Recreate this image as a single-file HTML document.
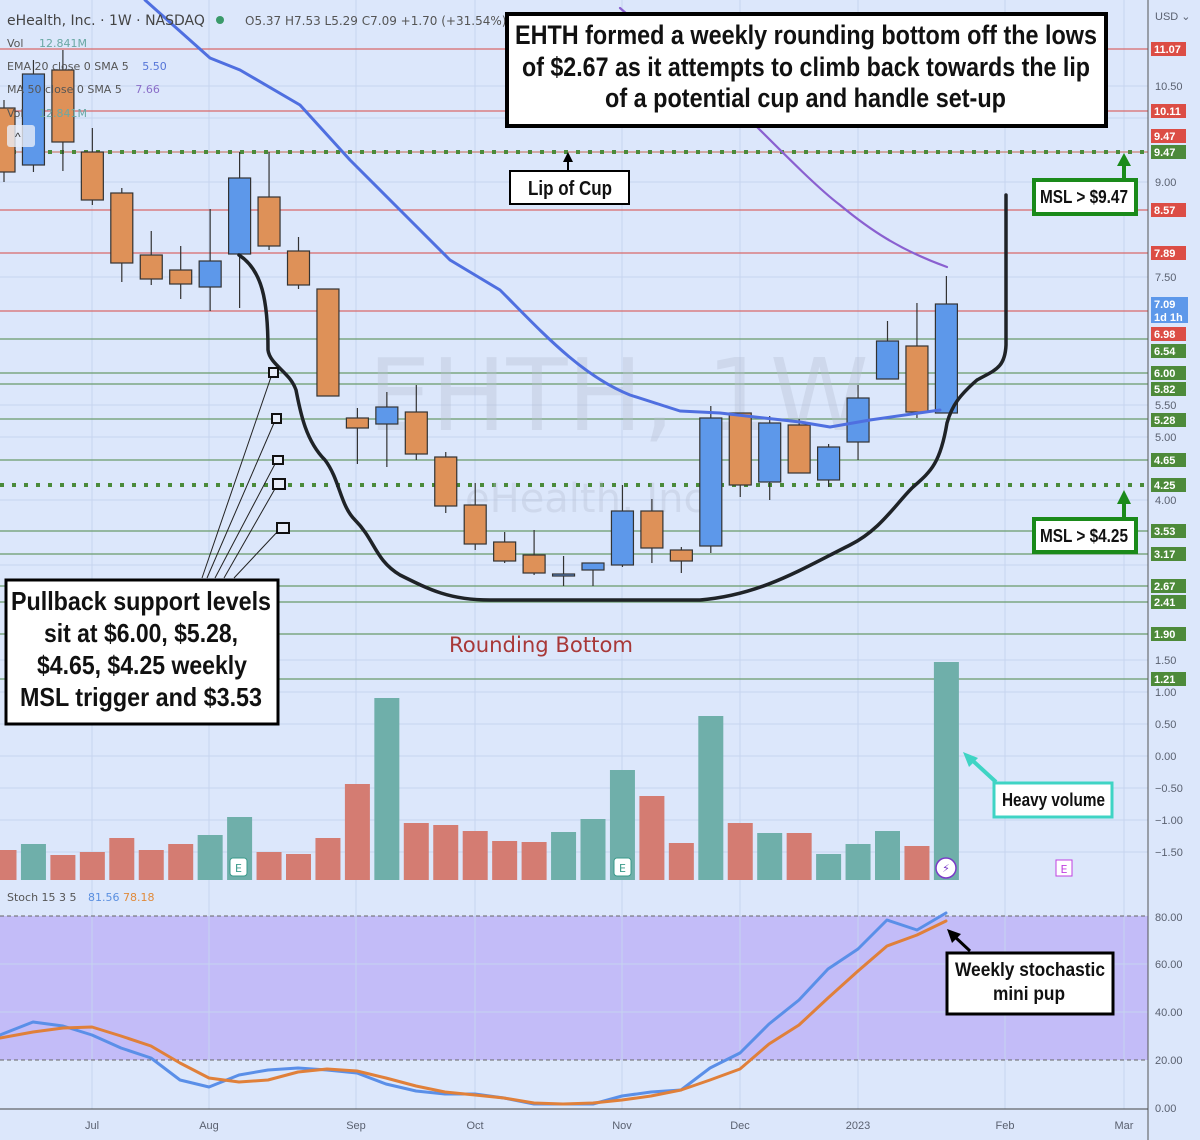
<!DOCTYPE html>
<html><head><meta charset="utf-8"><style>
html,body{margin:0;padding:0;background:#dce7fb;}
svg{display:block;font-family:"Liberation Sans",sans-serif;}
.ax{font-size:11px;fill:#5a6170;font-family:"Liberation Sans",sans-serif;}
.lb{font-size:11px;fill:#fff;font-weight:bold;font-family:"Liberation Sans",sans-serif;}
.ann{font-family:"Liberation Sans Narrow","Liberation Sans",sans-serif;font-weight:bold;fill:#111;}
.hd{font-family:"DejaVu Sans","Liberation Sans",sans-serif;}
</style></head><body>
<svg id="s" width="1200" height="1140" viewBox="0 0 1200 1140" xmlns="http://www.w3.org/2000/svg">
<rect width="1200" height="1140" fill="#dce7fb"/>
<rect x="0" y="916" width="1148" height="144" fill="#c3bcf8"/>
<g id="grid" stroke="#c6d4ef" stroke-width="1"></g>
<g id="hl"></g>
<text x="368" y="430" font-size="100" fill="#b5bfd2" opacity="0.35" class="hd">EHTH, 1W</text>
<text x="465" y="512" font-size="40" fill="#b5bfd2" opacity="0.35" class="hd">eHealth, Inc.</text>
<g id="vol"></g>
<g id="cd"></g>
<g id="ln" fill="none"></g>
<text x="7" y="25" font-size="14" fill="#444" class="hd">eHealth, Inc. · 1W · NASDAQ</text>
<circle cx="220" cy="20" r="4" fill="#3a9a6a"/>
<text x="245" y="25" font-size="12" fill="#555" class="hd">O5.37 H7.53 L5.29 C7.09 +1.70 (+31.54%)</text>
<text x="7" y="47" font-size="11" fill="#555" class="hd">Vol <tspan dx="12" fill="#6aa8a4">12.841M</tspan></text>
<text x="7" y="70" font-size="11" fill="#555" class="hd">EMA 20 close 0 SMA 5 <tspan dx="10" fill="#5575d8">5.50</tspan></text>
<text x="7" y="93" font-size="11" fill="#555" class="hd">MA 50 close 0 SMA 5 <tspan dx="10" fill="#8a6ec8">7.66</tspan></text>
<text x="7" y="117" font-size="11" fill="#555" class="hd">Vol <tspan dx="12" fill="#6aa8a4">12.841M</tspan></text>
<rect x="7" y="125" width="28" height="22" rx="3" fill="#e8eef8" opacity="0.8"/>
<text x="15" y="141" font-size="12" fill="#333">^</text>
<text x="7" y="901" font-size="11" fill="#555" class="hd">Stoch 15 3 5 <tspan dx="8" fill="#5a8fe0">81.56</tspan> <tspan fill="#e08a3a">78.18</tspan></text>
<line x1="1148" y1="0" x2="1148" y2="1140" stroke="#555" stroke-width="1"/>
<line x1="0" y1="1109" x2="1148" y2="1109" stroke="#444" stroke-width="1"/>
<g id="axis"></g>
<g class="ax" text-anchor="middle">
<text x="92" y="1129">Jul</text><text x="209" y="1129">Aug</text><text x="356" y="1129">Sep</text><text x="475" y="1129">Oct</text><text x="622" y="1129">Nov</text><text x="740" y="1129">Dec</text><text x="858" y="1129">2023</text><text x="1005" y="1129">Feb</text><text x="1124" y="1129">Mar</text>
</g>
<text x="449" y="652" font-size="21" fill="#a83838" class="hd" textLength="184" lengthAdjust="spacingAndGlyphs">Rounding Bottom</text>
<g stroke="#222" stroke-width="1" fill="none">
<line x1="202" y1="578" x2="271" y2="377"/><line x1="207" y1="578" x2="274" y2="423"/><line x1="215" y1="578" x2="275" y2="464"/><line x1="224" y1="578" x2="276" y2="487"/><line x1="234" y1="578" x2="279" y2="530"/>
</g>
<g stroke="#111" stroke-width="2" fill="#e8eefa">
<rect x="269" y="368" width="9" height="9"/><rect x="272" y="414" width="9" height="9"/><rect x="273" y="456" width="10" height="8"/><rect x="273" y="479" width="12" height="10"/><rect x="277" y="523" width="12" height="10"/>
</g>
<rect x="507" y="14" width="599" height="112" fill="#fff" stroke="#000" stroke-width="4"/>
<text class="ann" font-size="27" x="515" y="44" textLength="582" lengthAdjust="spacingAndGlyphs">EHTH formed a weekly rounding bottom off the lows</text>
<text class="ann" font-size="27" x="522" y="76" textLength="568" lengthAdjust="spacingAndGlyphs">of $2.67 as it attempts to climb back towards the lip</text>
<text class="ann" font-size="27" x="605" y="107" textLength="401" lengthAdjust="spacingAndGlyphs">of a potential cup and handle set-up</text>
<rect x="6" y="580" width="272" height="144" fill="#fff" stroke="#000" stroke-width="3"/>
<text class="ann" font-size="26" x="11" y="610" textLength="260" lengthAdjust="spacingAndGlyphs">Pullback support levels</text>
<text class="ann" font-size="26" x="44" y="642" textLength="194" lengthAdjust="spacingAndGlyphs">sit at $6.00, $5.28,</text>
<text class="ann" font-size="26" x="37" y="674" textLength="210" lengthAdjust="spacingAndGlyphs">$4.65, $4.25 weekly</text>
<text class="ann" font-size="26" x="20" y="706" textLength="242" lengthAdjust="spacingAndGlyphs">MSL trigger and $3.53</text>
<rect x="510" y="171" width="119" height="33" fill="#fff" stroke="#000" stroke-width="2"/>
<text class="ann" font-size="20" x="528" y="195" textLength="84" lengthAdjust="spacingAndGlyphs">Lip of Cup</text>
<line x1="568" y1="171" x2="568" y2="160" stroke="#000" stroke-width="2"/><polygon points="563,162 573,162 568,152" fill="#000"/>
<g stroke="#1a8a1a" stroke-width="4" fill="#fff">
<rect x="1034" y="180" width="102" height="34"/><rect x="1034" y="519" width="102" height="33"/>
</g>
<text class="ann" font-size="18" x="1040" y="203" textLength="88" lengthAdjust="spacingAndGlyphs">MSL &gt; $9.47</text>
<text class="ann" font-size="18" x="1040" y="542" textLength="88" lengthAdjust="spacingAndGlyphs">MSL &gt; $4.25</text>
<g stroke="#1a8a1a" stroke-width="4"><line x1="1124" y1="178" x2="1124" y2="164"/><line x1="1124" y1="517" x2="1124" y2="502"/></g>
<polygon points="1117,166 1131,166 1124,153" fill="#1a8a1a"/><polygon points="1117,504 1131,504 1124,490" fill="#1a8a1a"/>
<rect x="994" y="783" width="118" height="34" fill="#fff" stroke="#3fd4c4" stroke-width="3"/>
<text class="ann" font-size="18" x="1002" y="806" textLength="103" lengthAdjust="spacingAndGlyphs">Heavy volume</text>
<line x1="996" y1="782" x2="972" y2="760" stroke="#3fd4c4" stroke-width="4"/><polygon points="963,752 978,758 969,767" fill="#3fd4c4"/>
<rect x="947" y="953" width="166" height="61" fill="#fff" stroke="#000" stroke-width="3"/>
<text class="ann" font-size="19" x="955" y="976" textLength="150" lengthAdjust="spacingAndGlyphs">Weekly stochastic</text>
<text class="ann" font-size="19" x="993" y="1000" textLength="72" lengthAdjust="spacingAndGlyphs">mini pup</text>
<line x1="970" y1="951" x2="954" y2="936" stroke="#000" stroke-width="3"/><polygon points="947,929 961,934 952,943" fill="#000"/>
<g font-size="11" class="hd" text-anchor="middle">
<rect x="230" y="858" width="17" height="18" rx="3" fill="#fff" stroke="#3a9a8a"/><text x="238.5" y="872" fill="#3a9a8a">E</text>
<rect x="614" y="858" width="17" height="18" rx="3" fill="#fff" stroke="#3a9a8a"/><text x="622.5" y="872" fill="#3a9a8a">E</text>
<circle cx="946" cy="868" r="10" fill="#fff" stroke="#7a3ac8" stroke-width="1.5"/><text x="946" y="872" fill="#7a3ac8">⚡</text>
<rect x="1056" y="860" width="16" height="16" fill="#fff" stroke="#c040e0"/><text x="1064" y="873" fill="#c040e0">E</text>
</g>
</svg>
<script>
var NS="http://www.w3.org/2000/svg";
function el(p,t,a,txt){var e=document.createElementNS(NS,t);for(var k in a)e.setAttribute(k,a[k]);if(txt!=null)e.textContent=txt;document.getElementById(p).appendChild(e);return e;}
[92,209,356,475,622,740,858,1005,1124].forEach(function(x){el('grid','line',{x1:x,y1:0,x2:x,y2:1109});});
[86,118,182,277,405,437,500,565,660,692,724,756,788,820,852,964,1012].forEach(function(y){el('grid','line',{x1:0,y1:y,x2:1148,y2:y});});
[49,111,210,253,311].forEach(function(y){el('hl','line',{x1:0,y1:y,x2:1148,y2:y,stroke:'#d86a6a','stroke-width':1.3});});
[339,373,384,419,460,531,554,586,602,634,679].forEach(function(y){el('hl','line',{x1:0,y1:y,x2:1148,y2:y,stroke:'#6a9a6a','stroke-width':1.3});});
el('hl','line',{x1:0,y1:152,x2:1148,y2:152,stroke:'#c86a50','stroke-width':1});
el('hl','line',{x1:0,y1:152,x2:1148,y2:152,stroke:'#4a8a3a','stroke-width':4,'stroke-dasharray':'4,8'});
el('hl','line',{x1:0,y1:485,x2:1148,y2:485,stroke:'#4a8a3a','stroke-width':4,'stroke-dasharray':'4,8'});
el('hl','line',{x1:0,y1:916,x2:1148,y2:916,stroke:'#666','stroke-width':1,'stroke-dasharray':'4,3'});
el('hl','line',{x1:0,y1:1060,x2:1148,y2:1060,stroke:'#666','stroke-width':1,'stroke-dasharray':'4,3'});
var C=[[108,172,100,182,0],[74,165,60,172,1],[70,142,50,171,0],[152,200,128,205,0],[193,263,188,282,0],[255,279,231,285,0],[270,284,246,299,0],[261,287,209,311,1],[178,254,152,308,1],[197,246,152,250,0],[251,285,237,289,0],[289,396,289,396,0],[418,428,408,464,0],[407,424,392,467,1],[412,454,385,460,0],[457,506,452,513,0],[505,544,483,550,0],[542,561,532,563,0],[555,573,530,575,0],[574,576,556,586,1],[563,570,563,586,1],[511,565,485,567,1],[511,548,499,563,0],[550,561,547,573,0],[418,546,406,553,1],[413,485,413,497,0],[423,482,416,500,1],[425,473,419,473,0],[447,480,444,487,1],[398,442,385,460,1],[341,379,321,379,1],[346,412,303,418,0],[304,413,276,413,1]];
var V=[[850,0],[844,1],[855,0],[852,0],[838,0],[850,0],[844,0],[835,1],[817,1],[852,0],[854,0],[838,0],[784,0],[698,1],[823,0],[825,0],[831,0],[841,0],[842,0],[832,1],[819,1],[770,1],[796,0],[843,0],[716,1],[823,0],[833,1],[833,0],[854,1],[844,1],[831,1],[846,0],[662,1]];
function cx(i){return 4+i*29.45;}
V.forEach(function(v,i){var x=cx(i);el('vol','rect',{x:Math.max(0,x-12.5),y:v[0],width:x<12?x+12.5:25,height:880-v[0],fill:v[1]?'#6fafaa':'#d47c72'});});
C.forEach(function(c,i){var x=cx(i);el('cd','line',{x1:x,y1:c[2],x2:x,y2:c[3],stroke:'#333','stroke-width':1.2});
el('cd','rect',{x:x-11,y:c[0],width:22,height:Math.max(2,c[1]-c[0]),fill:c[4]?'#5d98ea':'#de9158',stroke:'#333','stroke-width':1.2});});
function pl(pts,st,w){el('ln','polyline',{points:pts.map(function(p){return p.join(',')}).join(' '),stroke:st,'stroke-width':w,'stroke-linejoin':'round','stroke-linecap':'round'});}
function path(d,st,w){el('ln','path',{d:d,stroke:st,'stroke-width':w,'stroke-linejoin':'round','stroke-linecap':'round'});}
path('M145,0 L210,58 L240,70 L300,105 L350,160 L400,210 L450,260 L500,290 C540,330 580,375 630,395 L680,411 L720,413 L800,422 L830,427 L870,420 L940,410','#4f6fe0',3);
path('M620,8 C680,60 720,95 750,120 C790,160 820,190 840,205 C870,230 900,250 947,267','#8a60d0',2.2);
path('M239,255 C262,270 268,300 268,350 C270,365 290,372 296,390 C300,410 305,440 325,460 C340,480 340,505 355,520 C375,540 375,560 400,575 C430,590 450,600 490,600 L700,600 C760,595 800,570 850,545 C880,530 895,505 912,488 C930,472 940,465 947,423 C952,405 960,395 977,380 C995,370 1005,368 1006,345 L1006,195','#1f2327',3.5);
pl([[0,1035],[33,1022],[63,1026],[92,1035],[121,1048],[151,1058],[180,1080],[209,1087],[239,1075],[268,1070],[298,1068],[327,1070],[357,1073],[386,1084],[416,1091],[445,1094],[475,1094],[504,1098],[534,1104],[563,1104],[593,1104],[622,1096],[651,1092],[681,1090],[710,1068],[740,1053],[769,1024],[799,1000],[828,969],[858,949],[887,920],[917,930],[946,913]],'#5a8fe8',3);
pl([[0,1038],[33,1032],[63,1028],[92,1027],[121,1036],[151,1046],[180,1063],[209,1078],[239,1082],[268,1080],[298,1072],[327,1069],[357,1071],[386,1078],[416,1086],[445,1092],[475,1095],[504,1098],[534,1103],[563,1104],[593,1103],[622,1100],[651,1096],[681,1090],[710,1080],[740,1069],[769,1044],[799,1025],[828,998],[858,971],[887,946],[917,935],[946,921]],'#e0803a',3);
[['USD ⌄',16],['10.50',86],['9.00',182],['7.50',277],['5.50',405],['5.00',437],['4.00',500],['1.50',660],['1.00',692],['0.50',724],['0.00',756],['−0.50',788],['−1.00',820],['−1.50',852],['80.00',917],['60.00',964],['40.00',1012],['20.00',1060],['0.00',1108]].forEach(function(a){el('axis','text',{x:1155,y:a[1]+4,'class':'ax'},a[0]);});
var R='#dc4d45',G='#4d8a3a';
[['11.07',49,R],['10.11',111,R],['9.47',136,R],['9.47',152,G],['8.57',210,R],['7.89',253,R],['6.98',334,R],['6.54',351,G],['6.00',373,G],['5.82',389,G],['5.28',420,G],['4.65',460,G],['4.25',485,G],['3.53',531,G],['3.17',554,G],['2.67',586,G],['2.41',602,G],['1.90',634,G],['1.21',679,G]].forEach(function(a){el('axis','rect',{x:1151,y:a[1]-7,width:35,height:14,fill:a[2]});el('axis','text',{x:1154,y:a[1]+4,'class':'lb'},a[0]);});
el('axis','rect',{x:1151,y:297,width:37,height:26,fill:'#5d98ea'});
el('axis','text',{x:1154,y:308,'class':'lb'},'7.09');el('axis','text',{x:1154,y:321,'class':'lb'},'1d 1h');
</script>
</body></html>
